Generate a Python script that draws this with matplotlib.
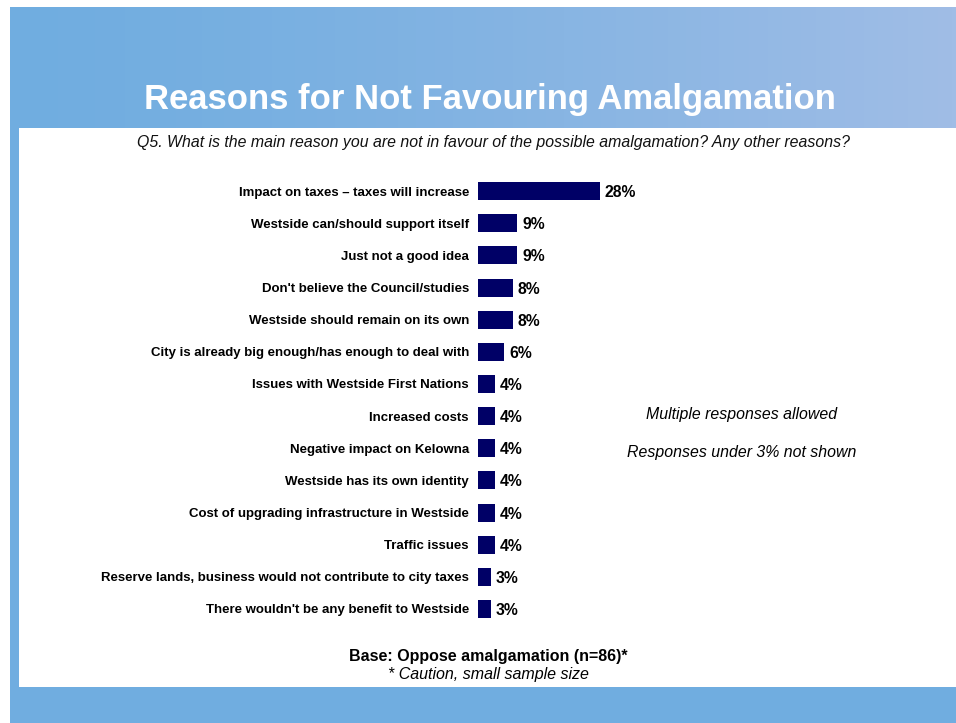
"""
Reasons for not favouring amalgamation - horizontal bar chart.
"""
import numpy as np
import matplotlib
matplotlib.use("Agg")
import matplotlib.pyplot as plt

plt.rcParams['font.family'] = ['Liberation Sans', 'DejaVu Sans']

# Data
reasons = [
    "Impact on taxes \u2013 taxes will increase",
    "Westside can/should support itself",
    "Just not a good idea",
    "Don't believe the Council/studies",
    "Westside should remain on its own",
    "City is already big enough/has enough to deal with",
    "Issues with Westside First Nations",
    "Increased costs",
    "Negative impact on Kelowna",
    "Westside has its own identity",
    "Cost of upgrading infrastructure in Westside",
    "Traffic issues",
    "Reserve lands, business would not contribute to city taxes",
    "There wouldn't be any benefit to Westside",
]
percents = [28, 9, 9, 8, 8, 6, 4, 4, 4, 4, 4, 4, 3, 3]

title = "Reasons for Not Favouring Amalgamation"
question = "Q5. What is the main reason you are not in favour of the possible amalgamation? Any other reasons?"
notes = ["Multiple responses allowed", "Responses under 3% not shown"]
base_text = "Base: Oppose amalgamation (n=86)*"
caution_text = "* Caution, small sample size"

W, H = 956, 723
BAR_COLOR = "#000066"
LEFT_BLUE = np.array([112, 173, 224]) / 255
RIGHT_BLUE = np.array([160, 189, 230]) / 255


def fx(px):
    return px / W


def fy(py):
    return 1 - py / H


fig = plt.figure(figsize=(W / 100, H / 100), dpi=100)

# Background decorations (pixel coordinates)
bg = fig.add_axes([0, 0, 1, 1])
bg.set_xlim(0, W)
bg.set_ylim(H, 0)
bg.axis("off")

grad = np.linspace(0, 1, 256) ** 1.3
header = LEFT_BLUE[None, :] * (1 - grad[:, None]) + RIGHT_BLUE[None, :] * grad[:, None]
bg.imshow(header[None, :, :], extent=[10, W, 128, 7], aspect="auto", zorder=1)
bg.add_patch(plt.Rectangle((10, 128), 9, H - 128, color=LEFT_BLUE, lw=0, zorder=1))
bg.add_patch(plt.Rectangle((10, 687), W - 10, H - 687, color=LEFT_BLUE, lw=0, zorder=1))

fig.text(fx(490), fy(109), title, color="white", fontsize=24.9, fontweight="bold",
         ha="center", va="baseline")
fig.text(fx(493), fy(143), question, fontsize=11.4, style="italic",
         ha="center", va="center", color="#111111")

# Bar axes: x 0..100% spans 436 px starting at 478 px
top_px, bottom_px = 175, 625
ax = fig.add_axes([fx(478), fy(bottom_px), 436 / W, (bottom_px - top_px) / H])
ax.set_xlim(0, 100)
y = np.arange(len(reasons))
ax.barh(y, percents, height=0.56, color=BAR_COLOR)
ax.set_ylim(len(reasons) - 0.5, -0.5)
ax.set_yticks(y)
ax.set_yticklabels(reasons, fontsize=9.5, fontweight="bold")
ax.tick_params(axis="y", length=0, pad=6.5)
ax.set_xticks([])
for s in ax.spines.values():
    s.set_visible(False)
ax.patch.set_alpha(0)

for yi, p in zip(y, percents):
    ax.text(p + 1.1, yi + 0.05, f"{p}%", fontsize=11.3, fontweight="bold",
            va="center", ha="left")

fig.text(fx(742), fy(414), notes[0], fontsize=11.4, style="italic", ha="center", va="center")
fig.text(fx(742), fy(452), notes[1], fontsize=11.4, style="italic", ha="center", va="center")

fig.text(fx(488), fy(656), base_text, fontsize=11.5, fontweight="bold", ha="center", va="center")
fig.text(fx(488), fy(675), caution_text, fontsize=11.5, style="italic", ha="center", va="center")

fig.savefig("out.png", dpi=100)
